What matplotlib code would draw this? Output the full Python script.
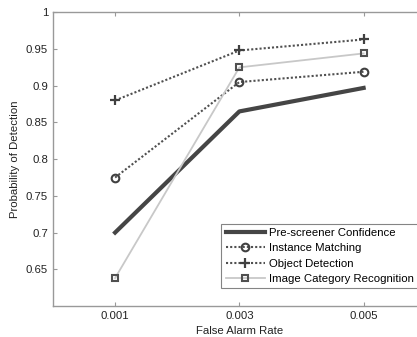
import matplotlib
matplotlib.use("Agg")
import matplotlib.pyplot as plt

plt.rcParams['font.family'] = ['Liberation Sans', 'DejaVu Sans']

# data
far = [0.001, 0.003, 0.005]
prescreener = [0.700, 0.865, 0.897]
instance = [0.775, 0.905, 0.919]
objdet = [0.880, 0.948, 0.963]
imgcat = [0.638, 0.925, 0.944]
xticks = [0.001, 0.003, 0.005]
yticks = [0.65, 0.7, 0.75, 0.8, 0.85, 0.9, 0.95, 1.0]
ytick_labels = ["0.65", "0.7", "0.75", "0.8", "0.85", "0.9", "0.95", "1"]

fig = plt.figure(figsize=(4.17, 3.37), dpi=100)
ax = fig.add_axes([0.127, 0.092, 0.894, 0.8715])

ax.plot(far, prescreener, color='#454545', lw=3.0, label='Pre-screener Confidence')
ax.plot(far, instance, color='#505050', lw=1.5, ls=(0, (1, 1)), marker='o',
        ms=5.5, mfc='none', mec='#404040', mew=1.5, label='Instance Matching')
ax.plot(far, objdet, color='#505050', lw=1.5, ls=(0, (1, 1)), marker='+',
        ms=7, mec='#404040', mew=1.6, label='Object Detection')
ax.plot(far, imgcat, color='#c8c8c8', lw=1.3, marker='s',
        ms=5, mfc='none', mec='#505050', mew=1.5, label='Image Category Recognition')

ax.set_xlim(0, 0.006)
ax.set_ylim(0.6, 1.0)
ax.set_xticks(xticks)
ax.set_xticklabels([f"{v:.3f}" for v in xticks])
ax.set_yticks(yticks)
ax.set_yticklabels(ytick_labels)
ax.tick_params(direction='in', labelsize=8.2, color='#999999', length=3,
               top=True, right=True, labelcolor='#222222')
for s in ax.spines.values():
    s.set_color('#999999')
    s.set_linewidth(1.0)

ax.set_xlabel('False Alarm Rate', fontsize=8.2, color='#222222', labelpad=4)
ax.set_ylabel('Probability of Detection', fontsize=8.2, color='#222222', labelpad=4)

leg = ax.legend(loc='lower left', bbox_to_anchor=(0.452, 0.06), fontsize=8.2,
                frameon=True, fancybox=False, handlelength=3.4, handletextpad=0.4,
                borderpad=0.4, labelspacing=0.46, borderaxespad=0)
leg.get_frame().set_edgecolor('#666666')
leg.get_frame().set_linewidth(0.8)

fig.savefig('out.png', dpi=100)
